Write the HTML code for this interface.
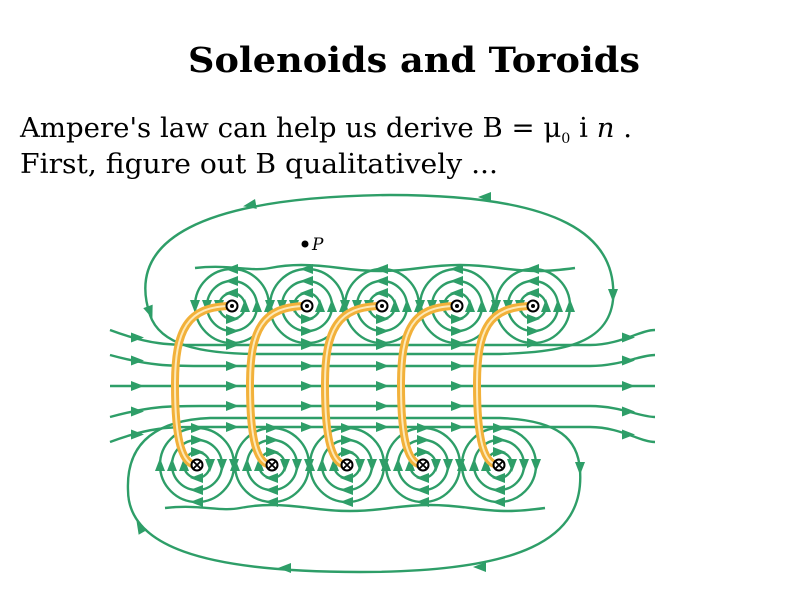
<!DOCTYPE html>
<html><head><meta charset="utf-8"><style>
html,body{margin:0;padding:0;background:#fff;}
svg{display:block;}
</style></head><body>
<svg id="fig" width="800" height="600" viewBox="0 0 800 600">
<text x="188" y="72" font-family="'DejaVu Serif','Liberation Serif',serif" font-weight="bold" font-size="35" textLength="452" lengthAdjust="spacingAndGlyphs">Solenoids and Toroids</text>
<text x="20" y="137" font-family="'DejaVu Serif','Liberation Serif',serif" font-size="27" textLength="612" lengthAdjust="spacingAndGlyphs">Ampere's law can help us derive B = μ<tspan font-size="14" dy="6">0</tspan><tspan dy="-6"> i </tspan><tspan font-style="italic">n</tspan> .</text>
<text x="20" y="173" font-family="'DejaVu Serif','Liberation Serif',serif" font-size="27" textLength="478" lengthAdjust="spacingAndGlyphs">First, figure out B qualitatively ...</text>
<g id="field" fill="none" stroke="#2e9e68" stroke-width="2.4"></g>
<g id="wires"></g>
<g id="marks"></g>
<circle cx="305" cy="244" r="3.5" fill="#000"/>
<text x="312" y="250" font-family="'DejaVu Serif',serif" font-style="italic" font-size="17">P</text>
</svg>
<script>
const topX=[232,307,382,457,533];
const botX=[197,272,347,423,499];
const topY=306, botY=465;
const radii=[13,25,37];
const NS='http://www.w3.org/2000/svg';
const G='#2e9e68';
const field=document.getElementById('field'),wires=document.getElementById('wires'),marks=document.getElementById('marks');
function mk(tag,attrs,parent){const e=document.createElementNS(NS,tag);for(const k in attrs)e.setAttribute(k,attrs[k]);parent.appendChild(e);return e;}
function arrow(x,y,ang,parent){const a=mk('polygon',{points:'7,0 -6,-5 -6,5',fill:G,stroke:'none',transform:`translate(${x},${y}) rotate(${ang})`},parent);

}
function path(d){const p=mk('path',{d:d},field);

return p;}
topX.forEach(x=>{radii.forEach(r=>{const c=mk('circle',{cx:x,cy:topY,r:r},field);


arrow(x-r,topY,90,field);arrow(x+r,topY,-90,field);arrow(x,topY-r,180,field);arrow(x,topY+r,0,field);});});
botX.forEach(x=>{radii.forEach(r=>{const c=mk('circle',{cx:x,cy:botY,r:r},field);


arrow(x-r,botY,-90,field);arrow(x+r,botY,90,field);arrow(x,botY-r,0,field);arrow(x,botY+r,180,field);});});
path('M150,315 C125,240 200,197 390,195 C560,195 618,235 613,300 C608,345 560,352 500,354 L260,354 C200,354 160,345 150,315');
arrow(250,205,170,field);arrow(485,197,180,field);arrow(613,295,90,field);arrow(150,312,70,field);
path('M580,470 C585,540 520,572 360,572 C200,572 128,545 128,490 C126,440 160,420 210,418 L500,418 C560,420 578,440 580,470');
arrow(580,468,90,field);arrow(480,567,180,field);arrow(285,568,180,field);arrow(140,527,-120,field);
const yEnds=[330,355,386,417,442];
const yMid=[345,366,386,406,427];
yEnds.forEach((ye,i)=>{const ym=yMid[i];
path(`M110,${ye} C150,${ym} 170,${ym} 200,${ym} L590,${ym} C620,${ym} 640,${ye} 655,${ye}`);
arrow(137,(ye+ym)/2,0,field);arrow(628,(ye+ym)/2,0,field);
[232,307,382,457].forEach(x=>arrow(x,ym,0,field));});
path('M195,268 C230,264 250,272 270,268 S310,264 340,268 S390,272 420,268 S470,264 500,268 S545,272 575,268');
path('M165,508 C200,504 220,512 240,508 S280,504 310,508 S360,512 390,508 S440,504 470,508 S515,512 545,508');
topX.forEach((x,i)=>{const bx=botX[i];const d=`M${x},${topY} C${x-45},${topY} ${bx-22},330 ${bx-22},385 C${bx-22},440 ${bx-15},${botY} ${bx},${botY}`;
const w=mk('path',{d:d,fill:'none',stroke:'#f2b13a','stroke-width':8},wires);


mk('path',{d:d,fill:'none',stroke:'#fde9b8','stroke-width':2},wires);});
topX.forEach(x=>{mk('circle',{cx:x,cy:topY,r:5.5,fill:'#fff',stroke:'#000','stroke-width':2},marks);
const d=mk('circle',{cx:x,cy:topY,r:2,fill:'#000'},marks);

});
botX.forEach(x=>{const c=mk('circle',{cx:x,cy:botY,r:5.5,fill:'#fff',stroke:'#000','stroke-width':2},marks);


mk('path',{d:`M${x-3.5},${botY-3.5}L${x+3.5},${botY+3.5}M${x+3.5},${botY-3.5}L${x-3.5},${botY+3.5}`,stroke:'#000','stroke-width':1.8},marks);});
</script>
</body></html>
